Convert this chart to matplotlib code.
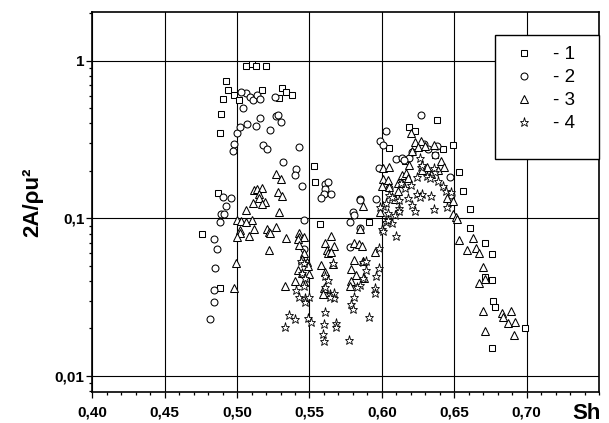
import matplotlib
matplotlib.use("Agg")
import matplotlib.pyplot as plt
from matplotlib.ticker import MultipleLocator, LogLocator, FixedLocator, FuncFormatter, NullFormatter
from matplotlib.patches import Rectangle

plt.rcParams['font.family'] = ['Liberation Sans', 'DejaVu Sans']

# ---------------- data ----------------
labels = ["- 1", "- 2", "- 3", "- 4"]

s1_x = [0.506, 0.510, 0.513, 0.520, 0.492, 0.494, 0.498, 0.490, 0.501, 0.517,
        0.531, 0.534, 0.538, 0.529, 0.489, 0.488, 0.605, 0.553, 0.554, 0.487,
        0.557, 0.591, 0.4755, 0.488, 0.638, 0.619, 0.623, 0.642, 0.649, 0.653,
        0.656, 0.661, 0.661, 0.671, 0.676, 0.671, 0.676, 0.677, 0.678, 0.699,
        0.676, 0.637, 0.616]
s1_y = [0.933, 0.947, 0.925, 0.933, 0.749, 0.648, 0.605, 0.573, 0.563, 0.648,
        0.676, 0.638, 0.605, 0.584, 0.456, 0.350, 0.281, 0.216, 0.169, 0.145,
        0.0916, 0.0951, 0.0791, 0.0359, 0.421, 0.382, 0.357, 0.275, 0.290, 0.196,
        0.149, 0.115, 0.0871, 0.070, 0.059, 0.0426, 0.0406, 0.030, 0.0272, 0.0202,
        0.0150, 0.252, 0.232]

s2_x = [0.506, 0.503, 0.509, 0.511, 0.514, 0.516, 0.526, 0.504, 0.500, 0.502,
        0.507, 0.513, 0.516, 0.523, 0.527, 0.528, 0.530, 0.498, 0.497, 0.518,
        0.521, 0.543, 0.532, 0.541, 0.540, 0.545, 0.490, 0.496, 0.492, 0.489,
        0.491, 0.488, 0.546, 0.484, 0.561, 0.563, 0.561, 0.560, 0.558, 0.565,
        0.580, 0.581, 0.578, 0.585, 0.585, 0.596, 0.603, 0.599, 0.601, 0.610,
        0.605, 0.598, 0.486, 0.485, 0.484, 0.484, 0.481, 0.546, 0.578, 0.585,
        0.627, 0.614, 0.619, 0.615, 0.621, 0.629, 0.632, 0.638, 0.637, 0.647,
        0.648, 0.627]
s2_y = [0.623, 0.638, 0.587, 0.567, 0.605, 0.575, 0.587, 0.500, 0.347, 0.382,
        0.396, 0.388, 0.436, 0.364, 0.449, 0.452, 0.407, 0.295, 0.267, 0.294,
        0.277, 0.282, 0.228, 0.206, 0.188, 0.160, 0.136, 0.134, 0.120, 0.107,
        0.107, 0.0947, 0.0971, 0.0738, 0.165, 0.170, 0.154, 0.143, 0.135, 0.142,
        0.110, 0.105, 0.0947, 0.133, 0.131, 0.133, 0.359, 0.310, 0.290, 0.239,
        0.155, 0.210, 0.0638, 0.0483, 0.035, 0.0295, 0.0228, 0.0635, 0.0654, 0.0868,
        0.452, 0.242, 0.242, 0.235, 0.265, 0.297, 0.275, 0.289, 0.251, 0.182,
        0.141, 0.285]

s3_x = [0.527, 0.530, 0.512, 0.514, 0.517, 0.515, 0.528, 0.531, 0.515, 0.511,
        0.519, 0.517, 0.506, 0.529, 0.500, 0.503, 0.510, 0.506, 0.502, 0.512,
        0.521, 0.527, 0.522, 0.601, 0.605, 0.601, 0.604, 0.600, 0.605, 0.611,
        0.587, 0.599, 0.585, 0.565, 0.543, 0.543, 0.534, 0.502, 0.500, 0.508,
        0.523, 0.522, 0.499, 0.498, 0.546, 0.542, 0.543, 0.546, 0.545, 0.548,
        0.549, 0.542, 0.545, 0.550, 0.540, 0.546, 0.533, 0.561, 0.567, 0.562,
        0.563, 0.565, 0.558, 0.566, 0.561, 0.560, 0.559, 0.581, 0.584, 0.586,
        0.595, 0.581, 0.579, 0.582, 0.588, 0.579, 0.578, 0.620, 0.623, 0.627,
        0.636, 0.625, 0.621, 0.630, 0.641, 0.631, 0.643, 0.619, 0.628, 0.639,
        0.634, 0.614, 0.617, 0.614, 0.618, 0.611, 0.609, 0.645, 0.649, 0.649,
        0.651, 0.652, 0.653, 0.663, 0.659, 0.665, 0.667, 0.670, 0.667, 0.671,
        0.670, 0.683, 0.689, 0.684, 0.687, 0.692, 0.671, 0.691, 0.587]
s3_y = [0.190, 0.177, 0.151, 0.154, 0.155, 0.143, 0.146, 0.138, 0.134, 0.125,
        0.126, 0.123, 0.113, 0.109, 0.0976, 0.0965, 0.0971, 0.0943, 0.0843, 0.0851,
        0.0859, 0.0877, 0.0815, 0.210, 0.211, 0.177, 0.175, 0.161, 0.159, 0.168,
        0.119, 0.110, 0.0855, 0.0769, 0.0803, 0.0764, 0.0746, 0.0803, 0.0761, 0.0769,
        0.0803, 0.0629, 0.0518, 0.0362, 0.0764, 0.0735, 0.068, 0.0599, 0.0548, 0.0527,
        0.0498, 0.0467, 0.0451, 0.0443, 0.0398, 0.0393, 0.037, 0.0694, 0.067, 0.0629,
        0.0604, 0.0613, 0.0505, 0.0512, 0.0456, 0.0362, 0.0329, 0.070, 0.0683, 0.0666,
        0.0613, 0.0541, 0.0474, 0.0438, 0.0419, 0.0401, 0.0372, 0.347, 0.305, 0.311,
        0.291, 0.285, 0.269, 0.289, 0.230, 0.213, 0.213, 0.219, 0.203, 0.203,
        0.191, 0.189, 0.193, 0.167, 0.181, 0.149, 0.132, 0.134, 0.129, 0.106,
        0.102, 0.0986, 0.0731, 0.0753, 0.0629, 0.065, 0.0599, 0.0492, 0.039, 0.0409,
        0.0258, 0.0249, 0.0258, 0.0237, 0.0217, 0.022, 0.0193, 0.0183, 0.0538]

s4_x = [0.605, 0.601, 0.604, 0.609, 0.603, 0.607, 0.600, 0.610, 0.544, 0.546,
        0.545, 0.546, 0.547, 0.541, 0.543, 0.547, 0.550, 0.547, 0.536, 0.540,
        0.533, 0.549, 0.551, 0.566, 0.561, 0.563, 0.561, 0.564, 0.567, 0.567,
        0.564, 0.561, 0.560, 0.568, 0.568, 0.559, 0.560, 0.577, 0.591, 0.587,
        0.589, 0.589, 0.587, 0.585, 0.583, 0.581, 0.579, 0.580, 0.598, 0.598,
        0.596, 0.595, 0.595, 0.604, 0.599, 0.631, 0.624, 0.633, 0.637, 0.639,
        0.613, 0.620, 0.616, 0.642, 0.644, 0.624, 0.628, 0.634, 0.626, 0.618,
        0.607, 0.612, 0.603, 0.621, 0.623, 0.636, 0.645, 0.612, 0.612, 0.601,
        0.627, 0.626, 0.628, 0.636, 0.648]
s4_y = [0.140, 0.120, 0.1076, 0.105, 0.0951, 0.0937, 0.086, 0.0772, 0.0535, 0.0522,
        0.0447, 0.0372, 0.0419, 0.035, 0.0318, 0.031, 0.0315, 0.0295, 0.0243, 0.0229,
        0.0204, 0.0233, 0.0219, 0.0522, 0.0431, 0.0404, 0.0364, 0.0332, 0.0334, 0.0313,
        0.0318, 0.0255, 0.0214, 0.0216, 0.0204, 0.0184, 0.0166, 0.017, 0.0238, 0.0525,
        0.0538, 0.0469, 0.0416, 0.0379, 0.0364, 0.0318, 0.0285, 0.0264, 0.0644, 0.0485,
        0.043, 0.0362, 0.0337, 0.0977, 0.1175, 0.186, 0.183, 0.179, 0.198, 0.1715,
        0.167, 0.163, 0.155, 0.160, 0.150, 0.142, 0.1425, 0.1387, 0.137, 0.134,
        0.137, 0.1307, 0.1245, 0.1215, 0.111, 0.114, 0.1185, 0.1158, 0.111, 0.0827,
        0.213, 0.240, 0.218, 0.208, 0.1475]

x_ticks = [0.40, 0.45, 0.50, 0.55, 0.60, 0.65, 0.70]
y_ticks = [0.01, 0.1, 1.0]
y_ticklabels = ["0,01", "0,1", "1"]

# ---------------- figure ----------------
fig = plt.figure(figsize=(6.09, 4.23), dpi=100)
ax = fig.add_axes([0.1516, 0.0733, 0.8320, 0.8976])

ax.set_yscale('log')
ax.set_xlim(0.40, 0.75)
ax.set_ylim(0.0079, 2.03)

series = [
    (s1_x, s1_y, 's', 4.4, 0.75),
    (s2_x, s2_y, 'o', 5.0, 0.75),
    (s3_x, s3_y, '^', 5.6, 0.75),
    (s4_x, s4_y, '*', 6.6, 0.6),
]
handles = []
for (xs, ys, mk, ms, mw), lab in zip(series, labels):
    h, = ax.plot(xs, ys, ls='none', marker=mk, ms=ms, mfc='white',
                 mec='black', mew=mw, label=lab, zorder=3)
    handles.append(h)

# grid
ax.grid(True, which='major', color='black', lw=0.8)
ax.set_axisbelow(True)

# ticks
ax.xaxis.set_major_locator(FixedLocator(x_ticks))
ax.xaxis.set_minor_locator(MultipleLocator(0.01))
ax.xaxis.set_major_formatter(FuncFormatter(lambda v, p: f"{v:.2f}".replace('.', ',')))
ax.yaxis.set_major_locator(FixedLocator(y_ticks))
ax.yaxis.set_major_formatter(FuncFormatter(
    lambda v, p: dict(zip(y_ticks, y_ticklabels)).get(round(v, 4), "")))
ax.yaxis.set_minor_locator(LogLocator(base=10, subs=range(2, 10)))
ax.yaxis.set_minor_formatter(NullFormatter())

ax.tick_params(axis='both', which='major', direction='out', length=4.5,
               width=0.9, labelsize=11, color='black')
ax.tick_params(axis='both', which='minor', direction='out', length=2.4,
               width=0.9, color='black')
ax.tick_params(axis='x', which='major', pad=5)
ax.tick_params(axis='y', which='major', pad=1)
ax.tick_params(top=False, right=False, which='both')
for t in ax.get_xticklabels() + ax.get_yticklabels():
    t.set_fontweight('bold')

for sp in ax.spines.values():
    sp.set_linewidth(1.2)
    sp.set_color('black')

# axis labels
ax.set_ylabel("2A/ρu²", fontsize=16, fontweight='bold')
ax.yaxis.set_label_coords(-0.097, 0.5)
fig.text(587 / 609, 1 - 403 / 423, "Sh", fontsize=16, fontweight='bold',
         ha='center', va='top')

# legend
leg = ax.legend(handles=handles, loc='upper left',
                bbox_to_anchor=((495 - 92.3) / 506.7, (392 - 35) / 379.7),
                frameon=False, fontsize=13.5, borderpad=0.6, labelspacing=0.31,
                handlelength=1.92, handletextpad=0.57, borderaxespad=0,
                numpoints=1)
ax.add_patch(Rectangle(((495 - 92.3) / 506.7, (392 - 159.3) / 379.7),
                       (598.5 - 495) / 506.7, (159.3 - 35) / 379.7,
                       transform=ax.transAxes, fill=True, facecolor='white',
                       edgecolor='black', lw=1.0, zorder=4, clip_on=False))
leg.set_zorder(5)

fig.savefig("out.png", dpi=100)
